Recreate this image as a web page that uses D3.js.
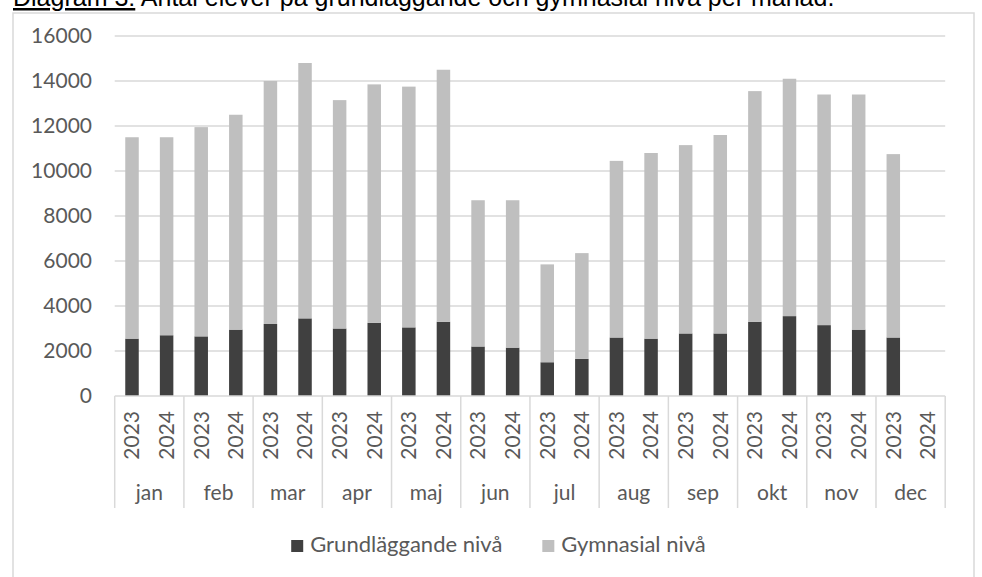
<!DOCTYPE html>
<html>
<head>
<meta charset="utf-8">
<script src="https://cdn.jsdelivr.net/npm/d3@7"></script>
<style>
  body { margin: 0; background: #fff; }
  svg { display: block; }
</style>
</head>
<body>
<svg id="chart" width="982" height="577"></svg>
<script>
// manader och ar
var months = ['jan','feb','mar','apr','maj','jun','jul','aug','sep','okt','nov','dec'];
var years = ['2023','2024'];
var yTicks = [0,2000,4000,6000,8000,10000,12000,14000,16000];

// Grundläggande nivå
var grund2023 = [2550, 2650, 3200, 3000, 3050, 2200, 1500, 2600, 2780, 3300, 3150, 2600];
var grund2024 = [2700, 2950, 3450, 3250, 3300, 2150, 1650, 2550, 2780, 3550, 2950, null];
// Gymnasial nivå
var gymn2023 = [8950, 9300, 10800, 10150, 10700, 6500, 4350, 7850, 8370, 10250, 10250, 8150];
var gymn2024 = [8800, 9550, 11350, 10600, 11200, 6550, 4700, 8250, 8820, 10550, 10450, null];

var seriesNames = ['Grundläggande nivå', 'Gymnasial nivå'];
var colors = ['#404040', '#bfbfbf'];

var svg = d3.select('#chart');
var plotLeft = 114.7, plotRight = 945.2, plotTop = 36, plotBottom = 396;

// ram
svg.append('rect')
  .attr('x', 13).attr('y', 13)
  .attr('width', 961).attr('height', 600)
  .attr('fill', 'none')
  .attr('stroke', '#d9d9d9')
  .attr('stroke-width', 1.5);

// rubrik (klipps i overkant)
var title = svg.append('text')
  .attr('x', 13).attr('y', 6)
  .style('font-family', '"Liberation Sans", Arial, sans-serif')
  .style('font-size', '25px')
  .attr('fill', '#000');
title.append('tspan')
  .style('text-decoration', 'underline')
  .text('Diagram 3:');
title.append('tspan')
  .text(' Antal elever på grundläggande och gymnasial nivå per månad.');

var y = d3.scaleLinear().domain([0, 16000]).range([plotBottom, plotTop]);
var x0 = d3.scaleBand().domain(months).range([plotLeft, plotRight]);
var x1 = d3.scaleBand().domain(years).range([0, x0.bandwidth()])
  .paddingInner(0.61).paddingOuter(0.305);
var slot = x0.bandwidth() / years.length;

var font = 'Lato, "Open Sans", sans-serif';

// stodlinjer
svg.append('g').selectAll('line')
  .data(yTicks.filter(function(d){ return d > 0; }))
  .join('line')
  .attr('x1', plotLeft).attr('x2', plotRight)
  .attr('y1', function(d){ return y(d); })
  .attr('y2', function(d){ return y(d); })
  .attr('stroke', '#d9d9d9')
  .attr('stroke-width', 1.5);

// y-axel
var yAxis = svg.append('g')
  .attr('transform', 'translate(92,0)')
  .call(d3.axisLeft(y).tickValues(yTicks).tickFormat(d3.format('d'))
    .tickSize(0).tickPadding(0));
yAxis.select('.domain').remove();
yAxis.selectAll('text')
  .style('font-family', font)
  .style('font-size', '21px')
  .attr('fill', '#595959');

// staplar
var rows = [];
months.forEach(function(m, i){
  rows.push({month: m, year: '2023', grund: grund2023[i], gymn: gymn2023[i]});
  rows.push({month: m, year: '2024', grund: grund2024[i], gymn: gymn2024[i]});
});
var stack = d3.stack().keys(['grund','gymn'])
  .value(function(d, k){ return d[k] || 0; });
var stacked = stack(rows);

svg.append('g').selectAll('g')
  .data(stacked)
  .join('g')
  .attr('fill', function(d, i){ return colors[i]; })
  .selectAll('rect')
  .data(function(d){ return d.filter(function(p){ return p[1] > p[0]; }); })
  .join('rect')
  .attr('x', function(d){ return x0(d.data.month) + x1(d.data.year); })
  .attr('width', x1.bandwidth())
  .attr('y', function(d){ return y(d[1]); })
  .attr('height', function(d){ return y(d[0]) - y(d[1]); });

// kategoriaxel
var cat = svg.append('g');
cat.append('line')
  .attr('x1', plotLeft).attr('x2', plotRight)
  .attr('y1', plotBottom).attr('y2', plotBottom)
  .attr('stroke', '#d9d9d9').attr('stroke-width', 1.5);
var bounds = months.map(function(m){ return x0(m); }).concat([plotRight]);
cat.selectAll('line.sep')
  .data(bounds)
  .join('line')
  .attr('class', 'sep')
  .attr('x1', function(d){ return d; }).attr('x2', function(d){ return d; })
  .attr('y1', plotBottom).attr('y2', 508)
  .attr('stroke', '#d9d9d9').attr('stroke-width', 1.5);

cat.selectAll('text.year')
  .data(rows)
  .join('text')
  .attr('class', 'year')
  .attr('transform', function(d){
    var cx = x0(d.month) + years.indexOf(d.year) * slot + slot / 2;
    return 'translate(' + cx + ',411) rotate(-90)';
  })
  .attr('text-anchor', 'end')
  .attr('dy', '0.35em')
  .style('font-family', font)
  .style('font-size', '21px')
  .attr('fill', '#595959')
  .text(function(d){ return d.year; });

cat.selectAll('text.month')
  .data(months)
  .join('text')
  .attr('class', 'month')
  .attr('x', function(d){ return x0(d) + x0.bandwidth() / 2; })
  .attr('y', 500)
  .attr('text-anchor', 'middle')
  .style('font-family', font)
  .style('font-size', '21px')
  .attr('fill', '#595959')
  .text(function(d){ return d; });

// legend
var legend = svg.append('g');
var items = legend.selectAll('g')
  .data(seriesNames)
  .join('g');
items.append('rect')
  .attr('width', 12).attr('height', 12)
  .attr('y', 540)
  .attr('fill', function(d, i){ return colors[i]; });
items.append('text')
  .attr('x', 19).attr('y', 551.5)
  .style('font-family', font)
  .style('font-size', '22px')
  .attr('fill', '#595959')
  .text(function(d){ return d; });

var widths = [];
items.each(function(){ widths.push(this.getBBox().width); });
var gap = 40;
var total = d3.sum(widths) + gap * (widths.length - 1);
var pos = 498.5 - total / 2;
items.attr('transform', function(d, i){
  var t = 'translate(' + pos + ',0)';
  pos += widths[i] + gap;
  return t;
});
</script>
</body>
</html>
